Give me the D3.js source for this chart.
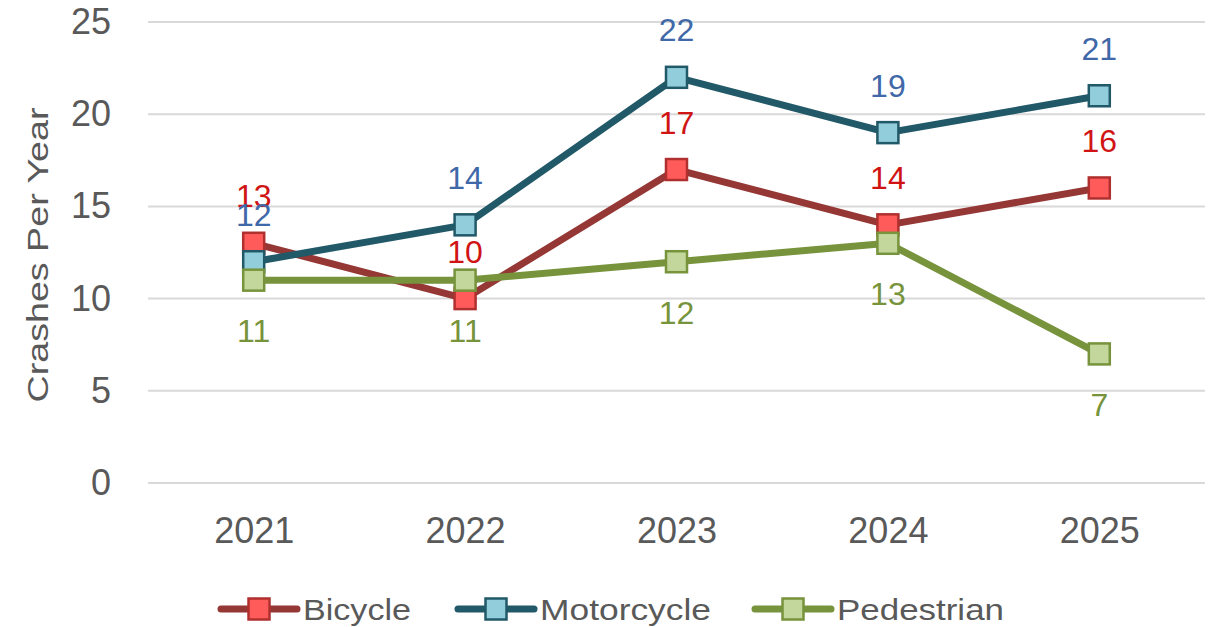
<!DOCTYPE html>
<html>
<head>
<meta charset="utf-8">
<script src="https://cdn.jsdelivr.net/npm/d3@7"></script>
<style>
  body { margin: 0; background: #fff; }
  text { font-family: "Liberation Sans", Arial, sans-serif; }
</style>
</head>
<body>
<script>
// data
var years = ["2021", "2022", "2023", "2024", "2025"];
var bicycle = [13, 10, 17, 14, 16];
var motorcycle = [12, 14, 22, 19, 21];
var pedestrian = [11, 11, 12, 13, 7];
var seriesNames = ["Bicycle", "Motorcycle", "Pedestrian"];
var yTicks = [0, 5, 10, 15, 20, 25];

var W = 1217, H = 627;
var plotLeft = 148, plotRight = 1205, plotTop = 22, plotBottom = 483;

var svg = d3.select("body").append("svg").attr("width", W).attr("height", H);

var x = d3.scalePoint().domain(years).range([plotLeft, plotRight]).padding(0.5);
var y = d3.scaleLinear().domain([0, 25]).range([plotBottom, plotTop]);

// gridlines
svg.append("g").selectAll("line").data(yTicks).enter().append("line")
  .attr("x1", plotLeft).attr("x2", plotRight)
  .attr("y1", function(d) { return y(d); }).attr("y2", function(d) { return y(d); })
  .attr("stroke", "#d9d9d9").attr("stroke-width", 2);

// y axis labels
var yAxis = svg.append("g").attr("transform", "translate(111,0)")
  .call(d3.axisLeft(y).tickValues(yTicks).tickSize(0).tickPadding(0));
yAxis.select(".domain").remove();
yAxis.selectAll("text").attr("font-size", 36).attr("fill", "#595959")
  .style("font-family", "'Liberation Sans', Arial, sans-serif");

// x axis labels
var xAxis = svg.append("g").attr("transform", "translate(0," + (plotBottom + 34) + ")")
  .call(d3.axisBottom(x).tickSize(0).tickPadding(0));
xAxis.select(".domain").remove();
xAxis.selectAll("text").attr("font-size", 36).attr("fill", "#595959")
  .style("font-family", "'Liberation Sans', Arial, sans-serif");

// axis title
svg.append("text")
  .attr("transform", "translate(48,255) rotate(-90)")
  .attr("text-anchor", "middle")
  .attr("font-size", 30).attr("fill", "#595959")
  .attr("textLength", 295).attr("lengthAdjust", "spacingAndGlyphs")
  .text("Crashes Per Year");

var series = [
  {name: "Bicycle", values: bicycle, line: "#953735", fill: "#ff5b5b", stroke: "#b0302f", label: "#d01414", dy: -36, lw: 108},
  {name: "Motorcycle", values: motorcycle, line: "#215968", fill: "#92cddc", stroke: "#215968", label: "#4068a8", dy: -36, lw: 171},
  {name: "Pedestrian", values: pedestrian, line: "#77933c", fill: "#c3d69b", stroke: "#77933c", label: "#77933c", dy: 62, lw: 167}
];

var line = d3.line()
  .x(function(d, i) { return x(years[i]); })
  .y(function(d) { return y(d); });

var ms = 21;

series.forEach(function(s) {
  var g = svg.append("g").attr("class", "series");
  g.append("path").datum(s.values)
    .attr("fill", "none").attr("stroke", s.line)
    .attr("stroke-width", 7).attr("stroke-linejoin", "round")
    .attr("d", line);
  g.selectAll("rect").data(s.values).enter().append("rect")
    .attr("x", function(d, i) { return x(years[i]) - ms / 2; })
    .attr("y", function(d) { return y(d) - ms / 2; })
    .attr("width", ms).attr("height", ms)
    .attr("fill", s.fill).attr("stroke", s.stroke).attr("stroke-width", 2.5);
});

// data labels drawn on top
series.forEach(function(s) {
  svg.append("g").selectAll("text").data(s.values).enter().append("text")
    .attr("x", function(d, i) { return x(years[i]); })
    .attr("y", function(d) { return y(d) + s.dy; })
    .attr("text-anchor", "middle")
    .attr("font-size", 32).attr("fill", s.label)
    .text(function(d) { return d; });
});

// legend
var legendX = [221, 458, 755];
var legendY = 609;
var lg = svg.append("g").attr("class", "legend");
series.forEach(function(s, i) {
  var gx = legendX[i];
  lg.append("line").attr("x1", gx).attr("x2", gx + 76)
    .attr("y1", legendY).attr("y2", legendY)
    .attr("stroke", s.line).attr("stroke-width", 7).attr("stroke-linecap", "round");
  lg.append("rect").attr("x", gx + 38 - ms / 2).attr("y", legendY - ms / 2)
    .attr("width", ms).attr("height", ms)
    .attr("fill", s.fill).attr("stroke", s.stroke).attr("stroke-width", 2.5);
  lg.append("text").attr("x", gx + 82).attr("y", legendY + 11)
    .attr("font-size", 29).attr("fill", "#595959")
    .attr("textLength", s.lw).attr("lengthAdjust", "spacingAndGlyphs")
    .text(s.name);
});
</script>
</body>
</html>
